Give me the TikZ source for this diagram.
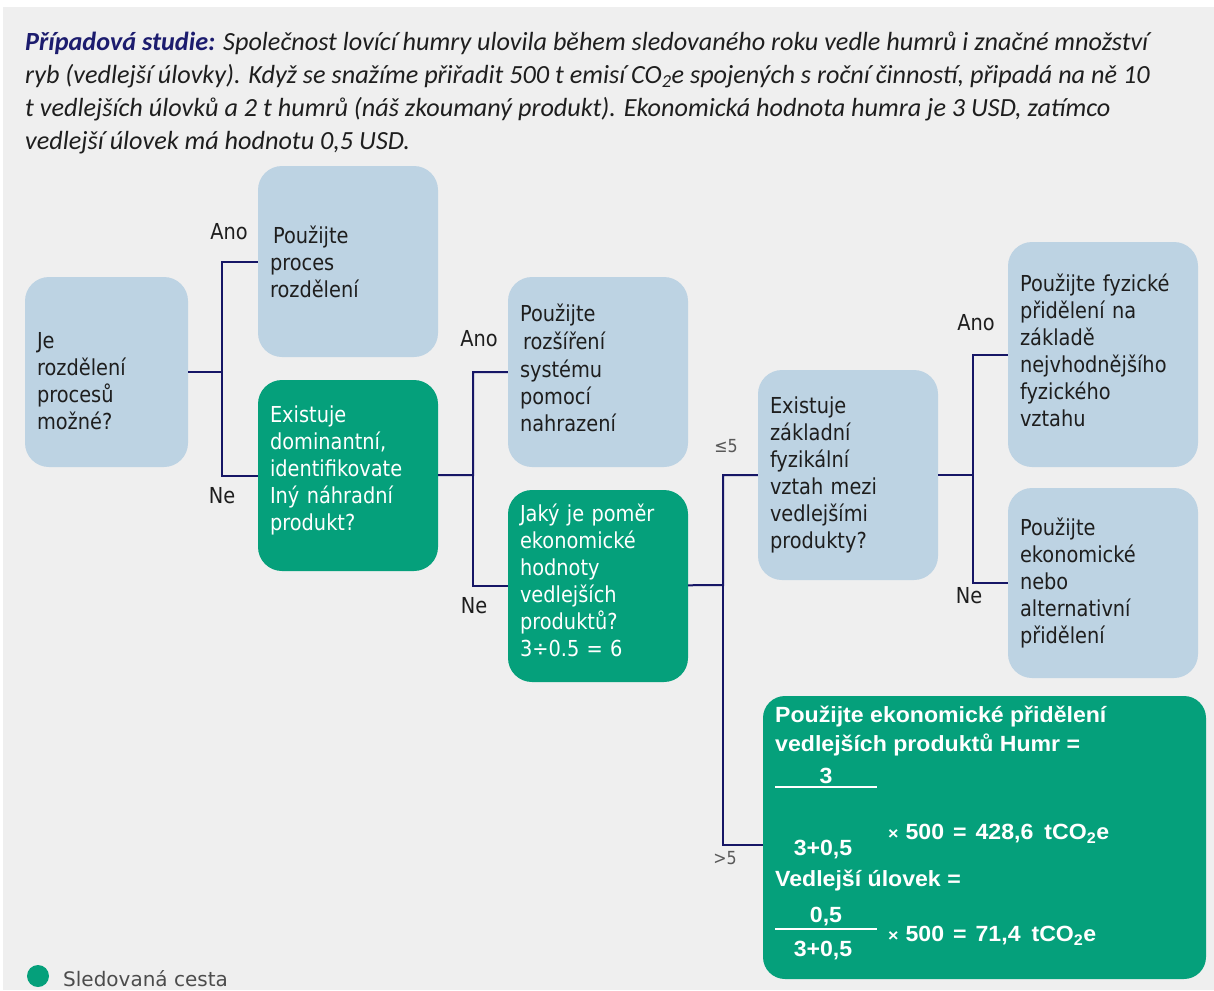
\documentclass[tikz,border=0pt]{standalone}
\usepackage{fontspec}
\newfontfamily\boxfont{DejaVu Sans}[FakeStretch=0.88]
\newfontfamily\titlefont{Carlito}
\newfontfamily\sumfont{Liberation Sans}[FakeStretch=1.05]
\newfontfamily\legendfont{DejaVu Sans}
\usetikzlibrary{positioning}

\begin{document}
\begin{tikzpicture}
	\definecolor{paperColour}{RGB}{239, 239, 239}
	\definecolor{blueBoxColour}{RGB}{189, 211, 227}
	\definecolor{greenBoxColour}{RGB}{5, 160, 123}
	\definecolor{lineColour}{RGB}{22, 22, 102}
	\definecolor{textColour}{RGB}{30, 30, 30}
	\definecolor{titleColour}{RGB}{28, 28, 110}
	\tikzstyle{box}=[rounded corners=24pt, align=left, inner xsep=12pt, inner ysep=0pt, font=\boxfont\fontsize{22}{27}\selectfont]
	\tikzstyle{bluebox}=[box, fill=blueBoxColour, text=textColour]
	\tikzstyle{greenbox}=[box, fill=greenBoxColour, text=white]
	\tikzstyle{answer}=[font=\boxfont\fontsize{22}{27}\selectfont, text=textColour, inner sep=0pt]
	\tikzstyle{ratio}=[font=\boxfont\fontsize{18}{22}\selectfont, text=black!65, inner sep=0pt]
	\tikzstyle{sum}=[anchor=west, font=\sumfont\bfseries\fontsize{22}{26}\selectfont, text=white, inner sep=0pt]
	\tikzstyle{link}=[-, line width=2pt, color=lineColour]

	\useasboundingbox (0pt,0pt) rectangle (1214pt,-990pt);
	\fill [paperColour] (3pt,-7pt) rectangle (1214pt,-990pt);

	\node [anchor=north west, inner sep=0pt, align=left, text=textColour, font=\titlefont\itshape\fontsize{26.2}{33}\selectfont, xshift=25pt, yshift=-32pt] (title)
		{{\bfseries\color{titleColour}Případová studie:} Společnost lovící humry ulovila během sledovaného roku vedle humrů i značné množství\\
		ryb (vedlejší úlovky). Když se snažíme přiřadit 500 t emisí CO\textsubscript{2}e spojených s roční činností, připadá na ně 10\\
		t vedlejších úlovků a 2 t humrů (náš zkoumaný produkt). Ekonomická hodnota humra je 3 USD, zatímco\\
		vedlejší úlovek má hodnotu 0,5 USD.};

	\node [bluebox, text width=139pt, minimum height=190pt, xshift=106.5pt, yshift=-372pt] (a) {\rule{0pt}{35pt}Je\\ rozdělení\\ procesů\\ možné?};
	\node [bluebox, text width=156pt, minimum height=191pt, xshift=348pt, yshift=-261.5pt] (b) {\hspace{3pt}Použijte\\ proces\\ rozdělení};
	\node [greenbox, text width=156pt, minimum height=191pt, xshift=348pt, yshift=-475.5pt] (c) {Existuje\\ dominantní,\\ identifikovate\\ Iný náhradní\\ produkt?\rule[-15pt]{0pt}{1pt}};
	\node [bluebox, text width=156pt, minimum height=190pt, xshift=598pt, yshift=-372pt] (d) {Použijte\\[1pt] \hspace{3pt}rozšíření\\[1pt] systému\\ pomocí\\ nahrazení\rule[-9pt]{0pt}{1pt}};
	\node [greenbox, text width=156pt, minimum height=192pt, xshift=598pt, yshift=-586pt] (e) {Jaký je poměr\\ ekonomické\\ hodnoty\\ vedlejších\\ produktů?\\ 3÷0.5 = 6\rule[-12pt]{0pt}{1pt}};
	\node [bluebox, text width=156pt, minimum height=210pt, xshift=848pt, yshift=-475pt] (f) {Existuje\\ základní\\ fyzikální\\ vztah mezi\\ vedlejšími\\ produkty?};
	\node [bluebox, text width=166pt, minimum height=225pt, xshift=1103pt, yshift=-354.5pt] (g) {Použijte fyzické\\ přidělení na\\ základě\\ nejvhodnějšího\\ fyzického\\ vztahu\rule[-9pt]{0pt}{1pt}};
	\node [bluebox, text width=166pt, minimum height=190pt, xshift=1103pt, yshift=-583pt] (h) {Použijte\\ ekonomické\\ nebo\\ alternativní\\ přidělení};
	\node [greenbox, rounded corners=22pt, minimum width=443pt, minimum height=283pt, xshift=984.5pt, yshift=-837.5pt] (i) {};

	% allocation sums
	\node [sum, xshift=775pt, yshift=-717pt] (s1) {Použijte ekonomické přidělení};
	\node [sum, xshift=775pt, yshift=-745pt] (s2) {vedlejších produktů Humr =};
	\node [sum, anchor=center, xshift=826pt, yshift=-776pt] (n1) {3};
	\node [sum, anchor=center, xshift=823pt, yshift=-850pt] (d1) {3+0,5};
	\node [sum, xshift=888pt, yshift=-834pt] (r1) {{\fontsize{17}{20}\selectfont ×}\hspace{7pt}500\hspace{9pt}=\hspace{9pt}428,6\hspace{11pt}tCO\textsubscript{2}e};
	\node [sum, xshift=775pt, yshift=-881pt] (s3) {Vedlejší úlovek =};
	\node [sum, anchor=center, xshift=826pt, yshift=-917pt] (n2) {0,5};
	\node [sum, anchor=center, xshift=823pt, yshift=-951pt] (d2) {3+0,5};
	\node [sum, xshift=888pt, yshift=-936pt] (r2) {{\fontsize{17}{20}\selectfont ×}\hspace{7pt}500\hspace{9pt}=\hspace{9pt}71,4\hspace{11pt}tCO\textsubscript{2}e};
	\draw [white, line width=2pt] (775pt,-787pt) -- (877pt,-787pt);
	\draw [white, line width=2pt] (775pt,-929pt) -- (877pt,-929pt);

	\coordinate [xshift=222pt, yshift=-372pt] (j1);
	\coordinate [xshift=473pt, yshift=-475pt] (j2);
	\coordinate [xshift=723pt, yshift=-585pt] (j3);
	\coordinate [xshift=973pt, yshift=-475pt] (j4);

	\draw [link] (a) -- (j1) |- (b);
	\draw [link] (j1) |- (c);
	\draw [link] (c) -- (j2) |- (d);
	\draw [link] (j2) |- (e);
	\draw [link] (e) -- (j3) |- (f);
	\draw [link] (j3) |- ([yshift=-7pt]i.west);
	\draw [link] (f) -- (j4) |- (g);
	\draw [link] (j4) |- (h);

	\node [answer, xshift=229pt, yshift=-232pt] (ano1) {Ano};
	\node [answer, xshift=222pt, yshift=-496pt] (ne1) {Ne};
	\node [answer, xshift=479pt, yshift=-339pt] (ano2) {Ano};
	\node [answer, xshift=474pt, yshift=-606pt] (ne2) {Ne};
	\node [ratio, xshift=726pt, yshift=-446pt] (low) {≤5};
	\node [ratio, xshift=725pt, yshift=-858pt] (high) {>5};
	\node [answer, xshift=976pt, yshift=-323pt] (ano3) {Ano};
	\node [answer, xshift=969pt, yshift=-596pt] (ne3) {Ne};

	\node [circle, fill=greenBoxColour, minimum size=22pt, inner sep=0pt, xshift=38pt, yshift=-976pt] (dot) {};
	\node [anchor=west, inner sep=0pt, font=\legendfont\fontsize{20}{24}\selectfont, text=black!70, xshift=63pt, yshift=-979pt] (legend) {Sledovaná cesta};
\end{tikzpicture}
\end{document}
